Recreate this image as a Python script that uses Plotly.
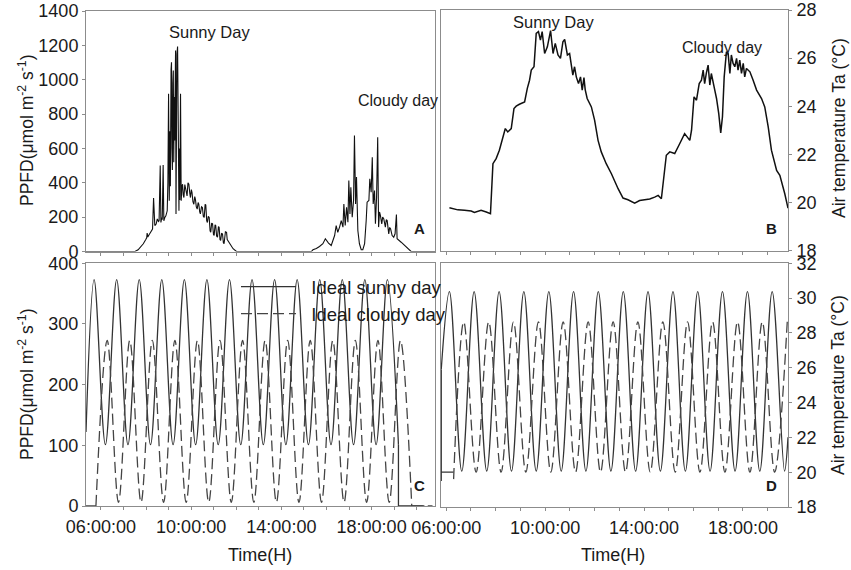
import plotly.graph_objects as go

# ---------------- Panel A : measured PPFD (sunny day + cloudy day) ----------------
a_time = [5.34, 7.51, 7.65, 7.80, 7.88, 7.99, 8.03, 8.05, 8.08, 8.15, 8.22, 8.29, 8.335, 8.36, 8.39,
          8.45, 8.50, 8.55, 8.58, 8.63, 8.66, 8.70, 8.72, 8.76, 8.79, 8.84, 8.88, 8.94, 8.97, 9.00,
          9.03, 9.06, 9.08, 9.11, 9.13, 9.15, 9.17, 9.19, 9.21, 9.23, 9.25, 9.27, 9.29, 9.31, 9.33,
          9.35, 9.37, 9.40, 9.42, 9.44, 9.46, 9.48, 9.50, 9.53, 9.56, 9.59, 9.62, 9.65, 9.68, 9.72,
          9.75, 9.79, 9.82, 9.86, 9.90, 9.94, 9.97, 10.01, 10.04, 10.08, 10.12, 10.16, 10.19, 10.23,
          10.27, 10.31, 10.34, 10.38, 10.41, 10.46, 10.50, 10.54, 10.58, 10.62, 10.65, 10.69, 10.72,
          10.76, 10.80, 10.84, 10.87, 10.91, 10.95, 10.99, 11.02, 11.06, 11.09, 11.13, 11.17, 11.21,
          11.24, 11.28, 11.31, 11.35, 11.39, 11.43, 11.46, 11.52, 11.57, 11.60, 11.63, 11.71, 11.86,
          12.01,
          15.33, 15.40, 15.55, 15.69, 15.84, 15.95, 16.02, 16.09, 16.21, 16.36, 16.43, 16.50, 16.58,
          16.655, 16.73, 16.77, 16.83, 16.89, 16.95, 16.99, 17.04, 17.08, 17.14, 17.20, 17.24, 17.29,
          17.33, 17.39, 17.46, 17.54, 17.61, 17.69, 17.76, 17.80, 17.88, 17.92, 17.98, 18.03, 18.07,
          18.13, 18.17, 18.22, 18.27, 18.31, 18.35, 18.39, 18.45, 18.49, 18.54, 18.61, 18.65, 18.69,
          18.76, 18.80, 18.84, 18.91, 18.98, 19.04, 19.10, 19.13, 19.31, 19.45, 19.60, 19.75, 20.81]
a_ppfd = [0, 0, 10, 29, 45, 70, 80, 107, 85, 100, 115, 131, 312, 260, 151,
          160, 190, 175, 179, 500, 169, 198, 185, 504, 179, 200, 208, 237, 400, 918,
          295, 700, 380, 1060, 1102, 600, 474, 980, 1053, 520, 900, 646, 1120, 1170, 219,
          1000, 1150, 1193, 840, 450, 237, 600, 300, 918, 295, 380, 392, 330, 314, 390,
          372, 330, 324, 400, 392, 340, 314, 360, 343, 290, 275, 320, 304, 260,
          247, 285, 275, 230, 219, 260, 256, 205, 198, 275, 271, 180, 169,
          205, 198, 120, 112, 165, 161, 100, 93, 155, 151, 90, 83, 145,
          141, 70, 64, 105, 103, 50, 45, 115, 112, 70, 64, 41, 16,
          0,
          0, 10, 17, 29, 45, 74, 60, 49, 35, 93, 151, 112, 142,
          180, 142, 277, 151, 258, 171, 413, 219, 374, 200, 297, 675, 277,
          433, 122, 45, 10, 10, 45, 180, 287, 297, 423, 345, 549, 277,
          355, 161, 316, 665, 142, 230, 210, 161, 200, 190, 142, 185, 180,
          103, 140, 132, 93, 83, 103, 215, 74, 54, 35, 16, 0, 0]

# ---------------- Panel B : measured air temperature ----------------
b_time = [6.13, 6.47, 6.74, 7.01, 7.14, 7.41, 7.62, 7.79, 7.89, 8.02, 8.15, 8.29, 8.39, 8.49, 8.63,
          8.74, 8.83, 8.96, 9.17, 9.28, 9.37, 9.44, 9.55, 9.64, 9.73, 9.81, 9.88, 9.98, 10.09, 10.22,
          10.32, 10.41, 10.52, 10.62, 10.72, 10.79, 10.90, 10.99, 11.06, 11.12, 11.19, 11.26, 11.35,
          11.43, 11.50, 11.57, 11.62, 11.70, 11.87, 12.00, 12.14, 12.27, 12.47, 12.68, 12.95, 13.15,
          13.35, 13.62, 13.82, 14.03, 14.23, 14.43, 14.57, 14.70, 14.79, 14.90, 15.04, 15.24, 15.44,
          15.64, 15.85, 15.92, 16.02, 16.12, 16.23, 16.32, 16.39, 16.45, 16.52, 16.59, 16.66, 16.72,
          16.83, 16.93, 17.02, 17.10, 17.17, 17.24, 17.33, 17.40, 17.47, 17.53, 17.60, 17.67, 17.74,
          17.80, 17.87, 17.94, 18.01, 18.07, 18.14, 18.28, 18.41, 18.55, 18.75, 18.88, 19.02, 19.15,
          19.36, 19.49, 19.69, 19.82]
b_temp = [19.78, 19.69, 19.67, 19.64, 19.58, 19.67, 19.60, 19.53, 21.61, 21.82, 22.17, 22.72, 23.07, 22.93, 23.07,
          23.90, 24.00, 24.08, 24.18, 24.74, 25.08, 25.50, 25.64, 27.03, 27.10, 26.75, 27.10, 26.19, 26.47, 27.14,
          26.19, 26.61, 26.13, 25.99, 26.68, 26.78, 26.13, 26.19, 25.67, 25.29, 25.64, 25.22, 24.94,
          25.22, 24.67, 25.19, 24.69, 24.32, 23.97, 23.42, 22.58, 22.10, 21.61, 21.19, 20.57, 20.18,
          20.11, 19.97, 20.08, 20.11, 20.14, 20.22, 20.29, 20.15, 20.92, 21.96, 22.10, 22.03, 22.44,
          22.86, 22.58, 23.00, 24.39, 24.25, 24.94, 25.08, 25.50, 24.94, 25.39, 25.71, 24.88, 25.36,
          24.81, 24.32, 23.69, 22.89, 23.56, 25.22, 26.26, 26.19, 25.36, 26.13, 25.78, 25.64, 25.99,
          25.50, 25.92, 25.36, 25.78, 25.22, 25.57, 25.43, 25.08, 24.67, 24.32, 23.97, 23.14, 22.17,
          21.33, 21.13, 20.36, 19.76]

# ---------------- Panel C : ideal PPFD regimes (peaks / troughs) ----------------
c_sunny_time = [5.34, 5.70, 6.20, 6.70, 7.20, 7.70, 8.20, 8.70, 9.20, 9.70, 10.20, 10.70, 11.20, 11.70,
                12.20, 12.70, 13.20, 13.70, 14.20, 14.70, 15.20, 15.70, 16.20, 16.70, 17.20, 17.70,
                18.20, 18.70, 19.19]
c_sunny_ppfd = [122, 373, 101, 373, 101, 373, 101, 373, 101, 373, 101, 373, 101, 373,
                101, 373, 101, 373, 101, 373, 101, 373, 101, 373, 101, 373,
                101, 373, 101]
c_sunny_off_time = [19.19, 19.19, 20.34]
c_sunny_off_ppfd = [101, 0, 0]

c_cloudy_lead_time = [5.34, 5.78]
c_cloudy_lead_ppfd = [0, 0]
c_cloudy_time = [5.78, 6.28, 6.78, 7.28, 7.78, 8.28, 8.78, 9.28, 9.78, 10.28, 10.78, 11.28, 11.78,
                 12.28, 12.78, 13.28, 13.78, 14.28, 14.78, 15.28, 15.78, 16.28, 16.78, 17.28, 17.78,
                 18.28, 18.78, 19.28, 19.78]
c_cloudy_ppfd = [0, 273, 6, 273, 6, 273, 6, 273, 6, 273, 6, 273, 6,
                 273, 6, 273, 6, 273, 6, 273, 6, 273, 6, 273, 6,
                 273, 6, 273, 0]
c_cloudy_off_time = [19.78, 20.70]
c_cloudy_off_ppfd = [0, 0]

# ---------------- Panel D : ideal air temperature regimes ----------------
d_sunny_lead_time = [5.80, 5.80]
d_sunny_lead_temp = [19.5, 25.9]
d_sunny_time = [5.80, 6.13, 6.63, 7.13, 7.64, 8.14, 8.64, 9.14, 9.64, 10.15, 10.65, 11.15, 11.65,
                12.15, 12.66, 13.16, 13.66, 14.16, 14.66, 15.17, 15.67, 16.17, 16.67, 17.17, 17.68,
                18.18, 18.68, 19.18, 19.68, 19.82]
d_sunny_temp = [25.9, 30.37, 20.06, 30.37, 20.06, 30.37, 20.06, 30.37, 20.06, 30.37, 20.06, 30.37, 20.06,
                30.37, 20.06, 30.37, 20.06, 30.37, 20.06, 30.37, 20.06, 30.37, 20.06, 30.37, 20.06,
                30.37, 20.06, 30.37, 20.06, 22.0]
d_cloudy_lead_time = [5.79, 6.30]
d_cloudy_lead_temp = [20.0, 20.0]
d_cloudy_time = [6.30, 6.71, 7.21, 7.72, 8.22, 8.72, 9.22, 9.73, 10.23, 10.73, 11.23, 11.74, 12.24,
                 12.75, 13.25, 13.75, 14.25, 14.76, 15.26, 15.76, 16.26, 16.77, 17.27, 17.78, 18.28,
                 18.78, 19.28, 19.79]
d_cloudy_temp = [19.6, 28.64, 20.0, 28.64, 20.0, 28.64, 20.0, 28.64, 20.0, 28.64, 20.0, 28.64, 20.0,
                 28.64, 20.0, 28.64, 20.0, 28.64, 20.0, 28.64, 20.0, 28.64, 20.0, 28.64, 20.0,
                 28.64, 20.0, 28.64]

# ---------------- axis ticks ----------------
hour_ticks_left = [6, 7, 8, 9, 10, 11, 12, 13, 14, 15, 16, 17, 18, 19, 20]
hour_text_left = ["06:00:00", "", "", "", "10:00:00", "", "", "", "14:00:00", "", "", "", "18:00:00", "", ""]
hour_ticks_right = [6, 7, 8, 9, 10, 11, 12, 13, 14, 15, 16, 17, 18, 19]
hour_text_right = ["06:00:00", "", "", "", "10:00:00", "", "", "", "14:00:00", "", "", "", "18:00:00", ""]

FONT = "Liberation Sans, Arial, sans-serif"
TXT = "#1a1a1a"
FRAME = "#8c8c8c"
W, H = 851, 570

def px(x):
    return x / W

def py(y):
    return 1 - y / H

fig = go.Figure()

# A
fig.add_trace(go.Scatter(x=a_time, y=a_ppfd, mode="lines", xaxis="x", yaxis="y",
                         line=dict(color="#111111", width=1.1), showlegend=False))
# B
fig.add_trace(go.Scatter(x=b_time, y=b_temp, mode="lines", xaxis="x2", yaxis="y2",
                         line=dict(color="#111111", width=1.5), showlegend=False))
# C
SOLID = dict(color="#333333", width=1.3)
DASH = dict(color="#444444", width=1.3, dash="11px,5px")
NB = "\u00a0\u00a0"
fig.add_trace(go.Scatter(x=c_sunny_time, y=c_sunny_ppfd, mode="lines", xaxis="x3", yaxis="y3",
                         line=dict(SOLID, shape="spline", smoothing=1), name=NB + "Ideal sunny day",
                         legendgroup="s", showlegend=True))
fig.add_trace(go.Scatter(x=c_sunny_off_time, y=c_sunny_off_ppfd, mode="lines", xaxis="x3", yaxis="y3",
                         line=SOLID, legendgroup="s", showlegend=False))
fig.add_trace(go.Scatter(x=c_cloudy_lead_time, y=c_cloudy_lead_ppfd, mode="lines", xaxis="x3", yaxis="y3",
                         line=DASH, legendgroup="c", showlegend=False))
fig.add_trace(go.Scatter(x=c_cloudy_time, y=c_cloudy_ppfd, mode="lines", xaxis="x3", yaxis="y3",
                         line=dict(DASH, shape="spline", smoothing=1), name=NB + "Ideal cloudy day",
                         legendgroup="c", showlegend=True))
fig.add_trace(go.Scatter(x=c_cloudy_off_time, y=c_cloudy_off_ppfd, mode="lines", xaxis="x3", yaxis="y3",
                         line=DASH, legendgroup="c", showlegend=False))
# D
fig.add_trace(go.Scatter(x=d_sunny_lead_time, y=d_sunny_lead_temp, mode="lines", xaxis="x4", yaxis="y4",
                         line=SOLID, showlegend=False))
fig.add_trace(go.Scatter(x=d_sunny_time, y=d_sunny_temp, mode="lines", xaxis="x4", yaxis="y4",
                         line=dict(SOLID, shape="spline", smoothing=1), showlegend=False))
fig.add_trace(go.Scatter(x=d_cloudy_lead_time, y=d_cloudy_lead_temp, mode="lines", xaxis="x4", yaxis="y4",
                         line=SOLID, showlegend=False))
fig.add_trace(go.Scatter(x=d_cloudy_time, y=d_cloudy_temp, mode="lines", xaxis="x4", yaxis="y4",
                         line=dict(DASH, shape="spline", smoothing=1), showlegend=False))

common_x = dict(showline=True, mirror=True, linecolor=FRAME, linewidth=1, showgrid=False, zeroline=False,
                automargin=False,
                ticks="outside", ticklen=3, tickcolor=FRAME, tickfont=dict(size=18, color=TXT, family=FONT))
common_y = dict(showline=True, mirror=True, linecolor=FRAME, linewidth=1, showgrid=False, zeroline=False,
                automargin=False,
                ticks="outside", ticklen=3, tickcolor=FRAME, tickfont=dict(size=18, color=TXT, family=FONT))

dom_left = [px(86), px(435)]
dom_right = [px(441), px(788)]

fig.update_layout(
    width=W, height=H,
    margin=dict(l=0, r=0, t=0, b=0, autoexpand=False),
    paper_bgcolor="white", plot_bgcolor="white",
    font=dict(family=FONT, color=TXT),
    xaxis=dict(common_x, domain=dom_left, range=[5.34, 20.81], anchor="y",
               tickvals=hour_ticks_left, showticklabels=False),
    yaxis=dict(common_y, domain=[py(251.5), py(11)], range=[0, 1400], dtick=200, anchor="x"),
    xaxis2=dict(common_x, domain=dom_right, range=[5.79, 19.82], anchor="y2",
                tickvals=hour_ticks_right, showticklabels=False),
    yaxis2=dict(common_y, domain=[py(250.5), py(10)], range=[18, 28], dtick=2, anchor="x2", side="right",
                ticklabelstandoff=1),
    xaxis3=dict(common_x, domain=dom_left, range=[5.34, 20.81], anchor="y3",
                tickvals=hour_ticks_left, ticktext=hour_text_left, ticklabelstandoff=1),
    yaxis3=dict(common_y, domain=[py(506), py(263.3)], range=[0, 400], dtick=100, anchor="x3"),
    xaxis4=dict(common_x, domain=dom_right, range=[5.79, 19.82], anchor="y4",
                tickvals=hour_ticks_right, ticktext=hour_text_right, ticklabelstandoff=1),
    yaxis4=dict(common_y, domain=[py(507), py(263.3)], range=[18, 32], dtick=2, anchor="x4", side="right",
                ticklabelstandoff=1),
    legend=dict(x=px(236), y=py(268), xanchor="left", yanchor="top", bgcolor="rgba(0,0,0,0)",
                font=dict(size=18.5, color=TXT, family=FONT), tracegroupgap=0, itemwidth=55),
)

def ann(text, x, y, size=16, bold=False, angle=0):
    fig.add_annotation(text=("<b>%s</b>" % text) if bold else text, x=px(x), y=py(y),
                       xref="paper", yref="paper", showarrow=False, xanchor="center", yanchor="middle",
                       textangle=angle, font=dict(size=size, color=TXT, family=FONT))

ann("Sunny Day", 209, 32, 16.5)
ann("Cloudy day", 398, 100, 16)
ann("A", 419, 228, 15, bold=True)
ann("Sunny Day", 553, 22, 16.5)
ann("Cloudy day", 722, 47, 16)
ann("B", 771, 228, 15, bold=True)
ann("C", 419, 485, 15, bold=True)
ann("D", 771, 485, 15, bold=True)

ann("PPFD(\u03bcmol m<sup>-2</sup> s<sup>-1</sup>)", 26, 130, 17.5, angle=-90)
ann("PPFD(\u03bcmol m<sup>-2</sup> s<sup>-1</sup>)", 26, 384, 17.5, angle=-90)
ann("Air temperature Ta (\u00b0C)", 839, 128, 17.5, angle=-90)
ann("Air temperature Ta (\u00b0C)", 838, 385, 17.5, angle=-90)
ann("Time(H)", 260, 555, 18)
ann("Time(H)", 613, 555, 18)

fig.write_html("out.html", config={"displayModeBar": False},
               post_script="document.body.style.margin='0';document.body.style.overflow='hidden';")
